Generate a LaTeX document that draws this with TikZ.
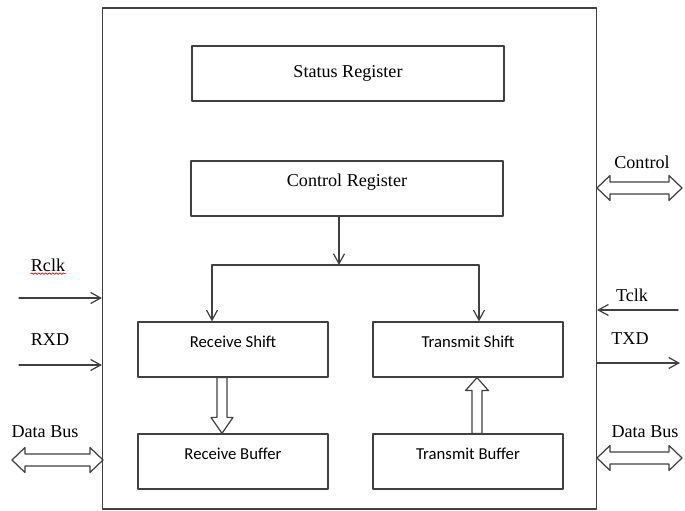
\documentclass[tikz,border=0pt]{standalone}
\usepackage{fontspec}
\setmainfont{Liberation Serif}
\newfontfamily\calibri{Carlito}
\usetikzlibrary{arrows.meta,calc,decorations.pathmorphing}

\begin{document}
\begin{tikzpicture}[font=\fontsize{10.3}{12}\selectfont, line join=round, line cap=round,
  >={Straight Barb[length=2mm,width=2.2mm]},
  wire/.style={draw=black!75, line width=0.7pt},
  reg/.style={wire, minimum width=6.24cm, minimum height=1.1cm, inner sep=0pt},
  blk/.style={wire, minimum width=3.8cm, minimum height=1.1cm, inner sep=0pt,
    font=\calibri\fontsize{9.5}{11}\selectfont, text height=0.25cm, text depth=0.33cm}]
\useasboundingbox (0,0) rectangle (13.7,10.22);
% UART block
\node[wire, minimum width=9.88cm, minimum height=10.02cm] (uart) at (6.99,5.05) {};
% registers
\node[reg] (status) at (6.96,8.75) {Status Register};
\node[reg, text height=0.25cm, text depth=0.33cm] (ctrl) at (6.94,6.45) {Control Register};
\node[blk] (rxs) at (4.66,3.23) {Receive Shift};
\node[blk] (txs) at (9.36,3.23) {Transmit Shift};
\node[blk] (rxb) at (4.66,0.99) {Receive Buffer};
\node[blk] (txb) at (9.36,0.99) {Transmit Buffer};
% control lines to the shift registers
\coordinate (split) at (6.78,4.92);
\draw[wire,->] (ctrl.south -| split) -- (split);
\draw[wire,->] (split) -| ([xshift=-4.2mm]rxs.north);
\draw[wire,->] (split) -| ([xshift=2.2mm]txs.north);
% hollow arrows between shift and buffer
\coordinate (ra) at ([xshift=-2.2mm]rxb.north);
\draw[wire, fill=white] (ra) -- ++(-2.2mm,3.2mm) -- ++(1.2mm,0)
  -- ($(ra |- rxs.south)+(-1mm,0)$) -- ($(ra |- rxs.south)+(1mm,0)$)
  -- ($(ra)+(1mm,3.2mm)$) -- ++(1.2mm,0) -- cycle;
\coordinate (ta) at ([xshift=1.8mm]txs.south);
\draw[wire, fill=white] (ta) -- ++(-2.3mm,-2.6mm) -- ++(1.3mm,0)
  -- ($(ta |- txb.north)+(-1mm,0)$) -- ($(ta |- txb.north)+(1mm,0)$)
  -- ($(ta)+(1mm,-2.6mm)$) -- ++(1.3mm,0) -- cycle;
% receive side signals
\coordinate (rclk) at (0.38,4.26);
\coordinate (rxd) at (0.38,2.92);
\draw[wire,->] (rclk) -- (rclk -| uart.west);
\draw[wire,->] (rxd) -- (rxd -| uart.west);
\node (rclklbl) at (0.96,4.92) {Rclk};
\draw[red, line width=0.4pt, decorate, decoration={snake, amplitude=0.4pt, segment length=2pt}]
  ($(rclklbl.base west)+(1.2mm,-1.4pt)$) -- ($(rclklbl.base east)+(-1.2mm,-1.4pt)$);
\node (rxdlbl) at (1.0,3.42) {RXD};
\node (rbuslbl) at (0.9,1.58) {Data Bus};
% transmit side signals
\coordinate (tclk) at (13.56,4.02);
\coordinate (txd) at (13.6,2.96);
\draw[wire,->] (tclk) -- (tclk -| uart.east);
\draw[wire,->] (txd -| uart.east) -- (txd);
\node (ctrllbl) at (12.84,6.98) {Control};
\node (tclklbl) at (12.64,4.32) {Tclk};
\node (txdlbl) at (12.6,3.44) {TXD};
\node (tbuslbl) at (12.9,1.58) {Data Bus};
% bus arrows (data bus in and out, control)
\foreach \xa/\xb/\yy in {0.24/2.06/1.02, 11.94/13.64/1.06, 11.94/13.64/6.46}
  \draw[wire, fill=white] (\xa,\yy) -- ++(0.26,0.25) -- ++(0,-0.13) -- (\xb-0.26,\yy+0.12)
    -- ++(0,0.13) -- (\xb,\yy) -- ++(-0.26,-0.25) -- ++(0,0.13) -- (\xa+0.26,\yy-0.12)
    -- ++(0,-0.13) -- cycle;
\end{tikzpicture}
\end{document}
